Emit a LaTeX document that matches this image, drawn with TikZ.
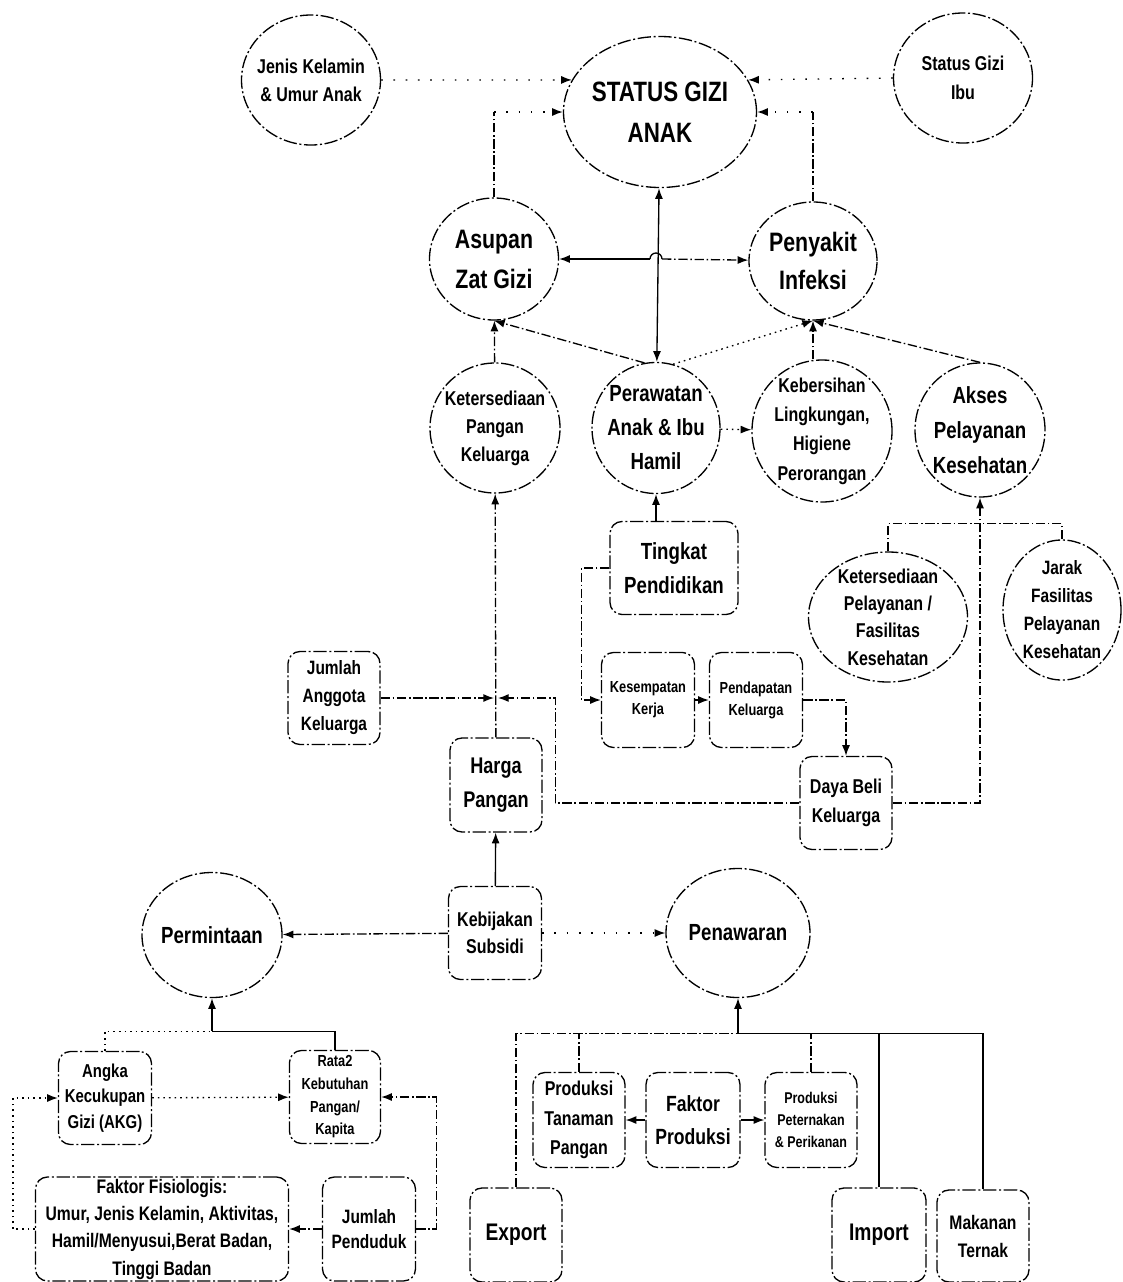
\documentclass[tikz,border=0pt]{standalone}
\usepackage{fontspec}
\setmainfont{Liberation Sans}[FakeStretch=0.8]
\usepackage{tikz}
\usetikzlibrary{shapes.geometric, arrows.meta}
\newcommand{\fsz}[2]{\fontsize{#1}{#2}\selectfont}

\begin{document}
\begin{tikzpicture}[x=0.75pt, y=-0.75pt, line width=1pt,
    rim/.style={draw, dash pattern=on 10pt off 2pt on 1.5pt off 2pt},
    ov/.style 2 args={ellipse, rim, minimum width=#1*0.75pt,
               minimum height=#2*0.75pt, inner sep=0pt},
    bx/.style 2 args={rectangle, rim, rounded corners=9pt, minimum width=#1*0.75pt,
               minimum height=#2*0.75pt, inner sep=0pt, align=center},
    tx/.style 2 args={font=\fsz{#1}{#2}\bfseries, align=center},
    a/.style={-{Latex[length=8pt,width=6pt]}},
    aa/.style={{Latex[length=8pt,width=6pt]}-{Latex[length=8pt,width=6pt]}},
    dd/.style={dash pattern=on 7pt off 2pt on 1.2pt off 2pt},
    dt/.style={dash pattern=on 1.2pt off 3pt},
    faint/.style={dash pattern=on 1.2pt off 8pt}]
  \useasboundingbox (0,0) rectangle (1122,1282);

  % status gizi and direct causes
  \node[ov={139}{130}, label={[tx={15}{21}]center:Jenis Kelamin\\\& Umur Anak}] (jenis) at (311,80) {};
  \node[ov={193}{151}, label={[tx={21}{31}]center:STATUS GIZI\\ANAK}] (status) at (660,112) {};
  \node[ov={139}{130}, label={[tx={15}{22}]center:Status Gizi\\Ibu}] (ibu) at (963,78) {};
  \node[ov={129}{122}, label={[tx={20}{30}]center:Asupan\\Zat Gizi}] (asupan) at (494,259) {};
  \node[ov={128}{118}, label={[tx={20}{29}]center:Penyakit\\Infeksi}] (infeksi) at (813,261) {};

  % underlying causes
  \node[ov={130}{130}, label={[tx={15}{21}]center:Ketersediaan\\Pangan\\Keluarga}] (ktpangan) at (495,428) {};
  \node[ov={128}{131}, label={[tx={17.5}{25.5}]center:Perawatan\\Anak \& Ibu\\Hamil}] (rawat) at (656,428) {};
  \node[ov={140}{142}, label={[tx={15}{22}]center:Kebersihan\\Lingkungan,\\Higiene\\Perorangan}] (bersih) at (822,431) {};
  \node[ov={130}{134}, label={[tx={17.5}{26}]center:Akses\\Pelayanan\\Kesehatan}] (akses) at (980,430) {};

  \node[bx={128}{93}, tx={17.5}{26}] (tingkat) at (674,568) {Tingkat\\Pendidikan};
  \node[ov={159}{130}, label={[tx={15}{20.5}]center:Ketersediaan\\Pelayanan /\\Fasilitas\\Kesehatan}] (ktlayan) at (888,617) {};
  \node[ov={118}{140}, label={[tx={14.5}{21}]center:Jarak\\Fasilitas\\Pelayanan\\Kesehatan}] (jarak) at (1062,610) {};

  \node[bx={92}{93}, tx={14.5}{21}] (jmlagt) at (334,698) {Jumlah\\Anggota\\Keluarga};
  \node[bx={93}{95}, tx={12}{16.5}] (kerja) at (648,700) {Kesempatan\\Kerja};
  \node[bx={93}{95}, tx={12}{16.5}] (dapat) at (756,700) {Pendapatan\\Keluarga};
  \node[bx={92}{94}, tx={17}{26}] (harga) at (496,785) {Harga\\Pangan};
  \node[bx={92}{93}, tx={15}{22}] (dayabeli) at (846,803) {Daya Beli\\Keluarga};

  % demand / supply
  \node[bx={93}{93}, tx={15}{20}] (subsidi) at (495,933) {Kebijakan\\Subsidi};
  \node[ov={140}{125}, label={[tx={17.5}{26}]center:Permintaan}] (minta) at (212,935) {};
  \node[ov={144}{129}, label={[tx={17.5}{26}]center:Penawaran}] (tawar) at (738,933) {};

  \node[bx={93}{93}, tx={14}{19}] (akg) at (105,1098) {Angka\\Kecukupan\\Gizi (AKG)};
  \node[bx={91}{93}, tx={12}{17}] (rata) at (335,1097) {Rata2\\Kebutuhan\\Pangan/\\Kapita};
  \node[bx={92}{95}, tx={15}{22}] (tanaman) at (579,1120) {Produksi\\Tanaman\\Pangan};
  \node[bx={94}{95}, tx={16.5}{25}] (faktor) at (693,1120) {Faktor\\Produksi};
  \node[bx={92}{95}, tx={11.7}{16.5}] (ternak) at (811,1120) {Produksi\\Peternakan\\\& Perikanan};

  \node[bx={253}{104}, tx={14.7}{20.5}] (fisio) at (162,1229) {Faktor Fisiologis:\\Umur, Jenis Kelamin, Aktivitas,\\Hamil/Menyusui,Berat Badan,\\Tinggi Badan};
  \node[bx={93}{104}, tx={14.5}{19}] (pendu) at (369,1229) {Jumlah\\Penduduk};
  \node[bx={92}{94}, tx={18}{26}] (export) at (516,1235) {Export};
  \node[bx={94}{94}, tx={18}{26}] (import) at (879,1235) {Import};
  \node[bx={92}{92}, tx={14.7}{21}] (makanan) at (983,1236) {Makanan\\Ternak};

  % connectors, top part
  \draw[faint, a] (jenis.east) -- (status.160);
  \draw[faint, a] (ibu.west) -- (status.20);
  \coordinate (sl) at (asupan.north |- status.west);
  \coordinate (sr) at (infeksi.north |- status.east);
  \draw[dd] (asupan) -- (sl);
  \draw[faint, a] (sl) -- (status);
  \draw[dd] (infeksi) -- (sr);
  \draw[faint, a] (sr) -- (status);
  \draw[aa] (rawat) -- (status);

  \coordinate (hop) at (rawat.north |- asupan.east);
  \coordinate (hopl) at ([xshift=-4.5pt]hop);
  \coordinate (hopr) at ([xshift=4.5pt]hop);
  \draw[a] (hopl) -- (asupan);
  \draw[dd, a] (hopr) -- (infeksi);
  \draw (hopl) arc[start angle=180, end angle=0, radius=4.5pt];

  \draw[dd, a] (ktpangan) -- (asupan);
  \draw[dd, a] (rawat.100) -- (asupan.south);
  \draw[dt, a] (rawat.75) -- (infeksi.south);
  \draw[dd, a] (infeksi.south |- bersih.north) -- (infeksi.south);
  \draw[dd, a] (akses.north) -- (infeksi.south);
  \draw[dt, a] (rawat) -- (bersih);

  % middle part
  \draw[a] (tingkat.north -| rawat.south) -- (rawat.south);
  \draw[dd, a] (tingkat.west) -- ++(-28,0) |- (kerja.west);
  \draw[a] (kerja) -- (dapat);
  \draw[dd, a] (dapat.east) -| (dayabeli.north);
  \draw[dd, a] (dayabeli.east) -| (akses.south);
  \path (akses.south) ++(0,26) coordinate (aj);
  \draw[dd] (ktlayan.north) |- (aj);
  \draw[dd] (jarak.north) |- (aj);

  \coordinate (jn) at (harga.north |- jmlagt.east);
  \draw[dd, a] (harga) -- (ktpangan);
  \draw[dd, a, shorten >=1.5pt] (jmlagt.east) -- (jn);
  \draw[dd, a, shorten >=1.5pt] (dayabeli.west) -- ++(-244,0) |- (jn);
  \draw[a] (subsidi) -- (harga);

  % bottom part
  \draw[dd, a] (subsidi) -- (minta);
  \draw[faint, a] (subsidi) -- (tawar);
  \path (minta.south) ++(0,33) coordinate (mj);
  \draw[dt] (akg.north) |- (mj);
  \draw (rata.north) |- (mj);
  \draw[a] (mj) -- (minta);
  \draw[dt, a] (akg) -- (rata);
  \draw[dt, a] (fisio.west) -- ++(-22,0) |- (akg.west);
  \draw[dd, a] (pendu) -- (fisio);
  \draw[dd, a] (pendu.east) -- ++(20,0) |- (rata.east);

  \path (tawar.south) ++(0,35) coordinate (tj);
  \draw[a] (tj) -- (tawar);
  \draw[dd] (export.north) |- (tj);
  \draw[dd] (tanaman.north) |- (tj);
  \draw[dd] (ternak.north) |- (tj);
  \draw (import.north) |- (tj);
  \draw (makanan.north) |- (tj);
  \draw[a] (faktor) -- (tanaman);
  \draw[a] (faktor) -- (ternak);
\end{tikzpicture}
\end{document}
